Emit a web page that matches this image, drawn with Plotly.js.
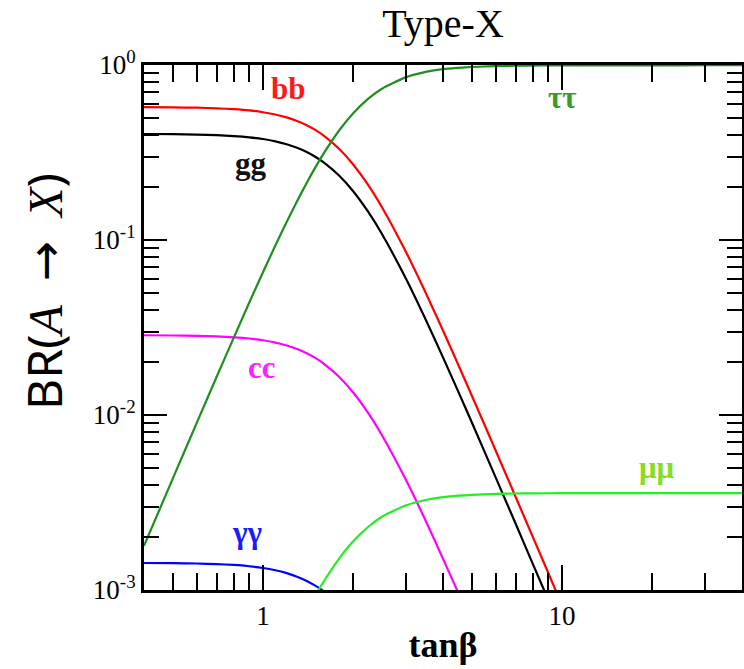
<!DOCTYPE html>
<html><head><meta charset="utf-8">
<script src="https://cdn.plot.ly/plotly-3.0.1.min.js"></script>
<style>html,body{margin:0;padding:0;background:#fff}#chart{width:744px;height:669px}</style>
</head><body><div id="chart"></div>
<script>
// tan(beta) sample points
const tanBetaFalling = [0.4,0.5,0.6,0.7,0.8,0.9,1.0,1.1,1.2,1.3,1.4,1.5,1.6,1.8,2.0,2.25,2.5,3.0,3.5,4.0,4.5,5,6,7,8,9,10];
const tanBetaTau = [0.4,0.5,0.6,0.7,0.8,0.9,1.0,1.1,1.2,1.3,1.4,1.5,1.6,1.8,2.0,2.25,2.5,3.0,3.5,4.0,4.5,5,6,7,8,9,10,12,15,20,30,40];
const tanBetaMu = [1.5,1.55,1.6,1.8,2.0,2.25,2.5,3.0,3.5,4.0,4.5,5,6,7,8,10,12,15,20,30,40];

// branching ratios
const brBB = [0.574,0.5725,0.570,0.5655,0.559,0.550,0.537,0.5215,0.502,0.479,0.453,0.4245,0.394,0.3315,0.271,0.206,0.154,0.0862,0.0500,0.0304,0.01936,0.01285,0.00627,0.00340,0.00200,0.00125,0.00082];
const brGG = [0.4033,0.4022,0.4004,0.3973,0.3927,0.3863,0.3776,0.3664,0.3528,0.3367,0.3184,0.2983,0.2769,0.2329,0.1906,0.1446,0.1082,0.0606,0.0351,0.02135,0.0136,0.00903,0.00440,0.00239,0.00140,0.000878,0.000576];
const brCC = [0.02855,0.02847,0.02834,0.02813,0.0278,0.02735,0.02673,0.02594,0.02497,0.02384,0.02254,0.02112,0.0196,0.01649,0.01349,0.01024,0.00766,0.00429,0.00249,0.00151,0.000963,0.000639];
const brAA = [0.001427,0.001424,0.001417,0.001406,0.00139,0.001367,0.001336,0.001297,0.001249,0.001192,0.001127,0.001056,0.00098,0.000824];
const brTauTau = [0.001787,0.004356,0.008988,0.01653,0.02787,0.04391,0.06542,0.0930,0.1268,0.1666,0.2119,0.2617,0.3145,0.4236,0.5283,0.642,0.7322,0.850,0.913,0.9471,0.9629,0.9741,0.9855,0.9905,0.9929,0.9942,0.9950,0.9958,0.9961,0.9963,0.9964,0.9964];
const brMuMu = [0.000937,0.00103,0.001126,0.001516,0.001891,0.002298,0.002621,0.003043,0.003268,0.003391,0.003459,0.0035,0.003541,0.003559,0.003568,0.003575,0.003578,0.00358,0.00358,0.00358,0.00358];

const channelNames = ['bb','gg','cc','γγ','ττ','μμ'];
const channelColors = ['#ff0000','#000000','#ff00ff','#0000ff','#1f8f1f','#22ee22'];
const labelColors = ['#ff1a1a','#111111','#ff22ff','#1a1aff','#3a9a2a','#88dd22'];
// label anchor points (tanβ, BR)
const labelX = [1.21,0.91,0.99,0.885,10.07,20.75];
const labelY = [0.73,0.275,0.0188,0.00214,0.656,0.00498];

// axis ticks
const xTickVals = [1,10];
const xTickText = ['1','10'];
const xMinorVals = [0.5,0.6,0.7,0.8,0.9,2,3,4,5,6,7,8,9,20,30];
const yTickVals = [0.001,0.01,0.1,1];
const yTickText = ['10<sup>-3</sup>','10<sup>-2</sup>','10<sup>-1</sup>','10<sup>0</sup>'];
const yMinorVals = [0.002,0.003,0.004,0.005,0.006,0.007,0.008,0.009,0.02,0.03,0.04,0.05,0.06,0.07,0.08,0.09,0.2,0.3,0.4,0.5,0.6,0.7,0.8,0.9];

const xs = [tanBetaFalling, tanBetaFalling, tanBetaFalling.slice(0, brCC.length), tanBetaFalling.slice(0, brAA.length), tanBetaTau, tanBetaMu];
const ys = [brBB, brGG, brCC, brAA, brTauTau, brMuMu];

const traces = ys.map((y, i) => ({
  x: xs[i], y: y, type: 'scatter', mode: 'lines', name: channelNames[i],
  line: {color: channelColors[i], width: 2.2, shape: 'spline', smoothing: 0.6},
  hoverinfo: 'x+y+name'
}));

const serif = 'Liberation Serif, Times New Roman, serif';
const annotations = channelNames.map((n, i) => ({
  x: Math.log10(labelX[i]), y: Math.log10(labelY[i]), xref: 'x', yref: 'y',
  text: '<b>' + n + '</b>', showarrow: false,
  font: {family: serif, size: 31, color: labelColors[i]},
  xanchor: 'center', yanchor: 'middle'
}));

// y-axis title (placed as a rotated annotation so it can sit above the axis centre like the reference)
const sp = '\u2002';
annotations.push({
  xref: 'paper', yref: 'paper', x: -0.169, y: 0.5695, xanchor: 'center', yanchor: 'middle',
  textangle: -90, showarrow: false,
  text: 'BR(<span style="font-family:Liberation Serif;font-style:italic">A</span>' + sp +
        '<span style="font-family:DejaVu Sans">→</span>' + sp +
        '<span style="font-family:Liberation Serif;font-style:italic">X</span>)',
  font: {family: 'Noto Sans, sans-serif', size: 48, color: '#000'}
});

const axisCommon = {
  type: 'log', showline: true, linewidth: 3, linecolor: '#000', mirror: 'allticks',
  ticks: 'inside', tickwidth: 2, tickcolor: '#000', showgrid: false, zeroline: false,
  tickmode: 'array', tickfont: {family: serif, size: 27, color: '#000'}
};

const layout = {
  width: 744, height: 669,
  margin: {l: 144, r: 2, t: 65, b: 79},
  paper_bgcolor: '#ffffff', plot_bgcolor: '#ffffff',
  showlegend: false,
  title: {text: 'Type-X', font: {family: serif, size: 40, color: '#000'},
          x: 0.5, xref: 'paper', xanchor: 'center', y: 0.966, yref: 'container', yanchor: 'middle'},
  xaxis: Object.assign({}, axisCommon, {
    range: [Math.log10(0.4), Math.log10(40)],
    ticklen: 25, tickvals: xTickVals, ticktext: xTickText,
    minor: {tickmode: 'array', tickvals: xMinorVals, ticks: 'inside', ticklen: 17, tickwidth: 2, tickcolor: '#000', showgrid: false},
    title: {text: '<b>tanβ</b>', font: {family: serif, size: 36, color: '#000'}, standoff: 2}
  }),
  yaxis: Object.assign({}, axisCommon, {
    range: [-3, 0],
    ticklen: 23, tickvals: yTickVals, ticktext: yTickText,
    minor: {tickmode: 'array', tickvals: yMinorVals, ticks: 'inside', ticklen: 15, tickwidth: 2, tickcolor: '#000', showgrid: false}
  }),
  annotations: annotations
};

Plotly.newPlot('chart', traces, layout, {displayModeBar: false, staticPlot: true});
</script>
</body></html>
